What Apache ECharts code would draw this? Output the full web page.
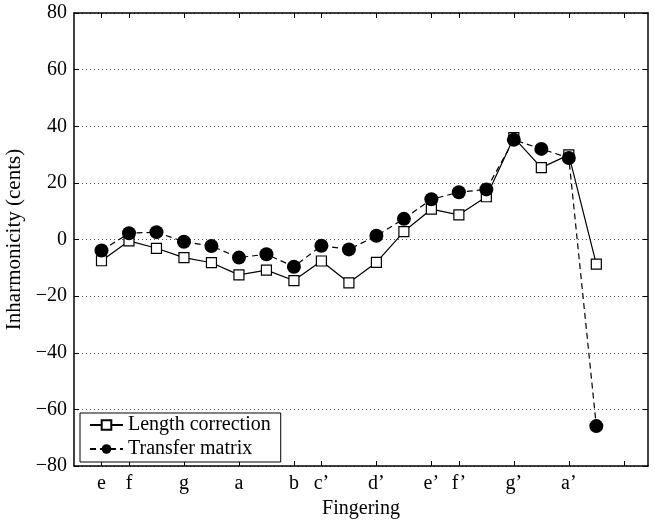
<!DOCTYPE html>
<html>
<head>
<meta charset="utf-8">
<script src="https://cdn.jsdelivr.net/npm/echarts@6/dist/echarts.min.js"></script>
<style>
	html, body { margin: 0; padding: 0; background: #fff; }
	#main { width: 655px; height: 527px; }
</style>
</head>
<body>
<div id="main"></div>
<script>
	// fingering positions (semitone steps) and the labelled ticks
	var positions = [1, 2, 3, 4, 5, 6, 7, 8, 9, 10, 11, 12, 13, 14, 15, 16, 17, 18, 19];
	var tickPositions = [1, 2, 4, 6, 8, 9, 11, 13, 14, 16, 18, 20];
	var tickLabels = ['e', 'f', 'g', 'a', 'b', 'c\u2019', 'd\u2019', 'e\u2019', 'f\u2019', 'g\u2019', 'a\u2019', ''];

	var lengthCorrection = [-7.5, -0.5, -3.1, -6.4, -8.2, -12.5, -10.8, -14.5, -7.6, -15.3,
		-8.1, 2.8, 10.7, 8.7, 15.1, 36.0, 25.4, 29.9, -8.7];
	var transferMatrix = [-3.9, 2.2, 2.6, -0.8, -2.3, -6.4, -5.2, -9.6, -2.2, -3.5,
		1.3, 7.3, 14.2, 16.7, 17.7, 35.2, 32.0, 28.8, -65.9];

	function pairs(ys) {
		return positions.map(function(x, i) { return [x, ys[i]]; });
	}

	var font = 'Liberation Serif';
	var fs = 20;
	var axisLine = { show: true, onZero: false, lineStyle: { color: '#000', width: 1.5 } };
	var tick = { show: true, inside: true, length: 5, lineStyle: { color: '#000' } };

	var chart = echarts.init(document.getElementById('main'));
	var option = {
		animation: false,
		textStyle: { fontFamily: font, color: '#000' },
		grid: { left: 74, right: 7, top: 13, bottom: 61, outerBoundsMode: 'none' },
		legend: {
			orient: 'vertical',
			left: 80,
			top: 413,
			padding: [2, 10, 3, 9],
			itemGap: 4,
			itemWidth: 33,
			itemHeight: 12,
			backgroundColor: '#fff',
			borderColor: '#000',
			borderWidth: 1,
			borderRadius: 0,
			textStyle: { fontFamily: font, fontSize: fs, color: '#000' },
			data: ['Length correction', 'Transfer matrix']
		},
		xAxis: [{
			type: 'value',
			min: 0,
			max: 20.88,
			name: 'Fingering',
			nameLocation: 'middle',
			nameGap: 33,
			nameTextStyle: { fontFamily: font, fontSize: fs, color: '#000' },
			axisLine: axisLine,
			axisTick: Object.assign({ customValues: tickPositions }, tick),
			axisLabel: {
				customValues: tickPositions,
				fontFamily: font, fontSize: fs, color: '#000', margin: 8,
				formatter: function(v) {
					var i = tickPositions.indexOf(v);
					return i >= 0 ? tickLabels[i] : '';
				}
			},
			splitLine: { show: false }
		}, {
			type: 'value',
			position: 'top',
			min: 0,
			max: 20.88,
			axisLine: axisLine,
			axisTick: Object.assign({ customValues: tickPositions }, tick),
			axisLabel: { show: false },
			splitLine: { show: false }
		}],
		yAxis: [{
			type: 'value',
			min: -80,
			max: 80,
			interval: 20,
			name: 'Inharmonicity (cents)',
			nameLocation: 'middle',
			nameGap: 42,
			nameTextStyle: { fontFamily: font, fontSize: 21, color: '#000' },
			axisLine: axisLine,
			axisTick: tick,
			axisLabel: {
				fontFamily: font, fontSize: fs, color: '#000', margin: 7,
				formatter: function(v) { return String(v).replace('-', '\u2212'); }
			},
			splitLine: { show: true, lineStyle: { color: '#555', type: [1, 3], width: 1 } }
		}, {
			type: 'value',
			position: 'right',
			min: -80,
			max: 80,
			interval: 20,
			axisLine: axisLine,
			axisTick: tick,
			axisLabel: { show: false },
			splitLine: { show: false }
		}],
		series: [{
			name: 'Length correction',
			type: 'line',
			data: pairs(lengthCorrection),
			symbol: 'rect',
			symbolSize: 10,
			showAllSymbol: true,
			itemStyle: { color: '#fff', borderColor: '#000', borderWidth: 1.2 },
			lineStyle: { color: '#000', width: 1.2 },
			z: 2
		}, {
			name: 'Transfer matrix',
			type: 'line',
			data: pairs(transferMatrix),
			symbol: 'circle',
			symbolSize: 14,
			showAllSymbol: true,
			itemStyle: { color: '#000', borderColor: '#000', borderWidth: 0 },
			lineStyle: { color: '#000', width: 1.2, type: [6, 4] },
			z: 3
		}]
	};
	chart.setOption(option);
</script>
</body>
</html>
